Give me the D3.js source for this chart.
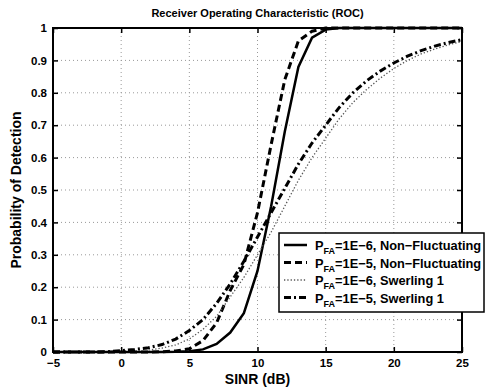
<!DOCTYPE html>
<html>
<head>
<meta charset="utf-8">
<script src="https://cdn.jsdelivr.net/npm/d3@7"></script>
<style>
  body { margin: 0; background: #fff; }
  text { font-family: "Liberation Sans", Arial, sans-serif; font-weight: bold; }
</style>
</head>
<body>
<div id="chart"></div>
<script>
// data, SINR in dB
const sinr = d3.range(-5, 26);
const pdNonFluct6 = [0, 0, 0, 0, 0, 0, 0, 0, 0, 0.0005, 0.002, 0.008, 0.025, 0.06, 0.12, 0.25, 0.45, 0.68, 0.88, 0.97, 0.995, 1, 1, 1, 1, 1, 1, 1, 1, 1, 1];
const pdNonFluct5 = [0, 0, 0, 0, 0, 0, 0, 0, 0.001, 0.003, 0.01, 0.035, 0.09, 0.19, 0.27, 0.43, 0.64, 0.84, 0.96, 0.99, 1, 1, 1, 1, 1, 1, 1, 1, 1, 1, 1];
const pdSwerling6 = [0, 0, 0, 0, 0, 0.001, 0.002, 0.006, 0.012, 0.022, 0.04, 0.07, 0.11, 0.17, 0.23, 0.30, 0.37, 0.45, 0.53, 0.60, 0.66, 0.72, 0.77, 0.81, 0.845, 0.875, 0.90, 0.92, 0.935, 0.948, 0.958];
const pdSwerling5 = [0, 0, 0, 0, 0.001, 0.004, 0.008, 0.013, 0.023, 0.04, 0.066, 0.10, 0.15, 0.21, 0.28, 0.355, 0.43, 0.505, 0.58, 0.645, 0.70, 0.755, 0.80, 0.837, 0.867, 0.892, 0.913, 0.93, 0.944, 0.955, 0.964];
const xTicks = [-5, 0, 5, 10, 15, 20, 25];
const yTicks = [0, 0.1, 0.2, 0.3, 0.4, 0.5, 0.6, 0.7, 0.8, 0.9, 1];
const seriesNames = ["=1E\u22126, Non\u2212Fluctuating", "=1E\u22125, Non\u2212Fluctuating", "=1E\u22126, Swerling 1", "=1E\u22125, Swerling 1"];

const svg_width = 487, svg_height = 387;
const margin = { top: 28, right: 25, bottom: 35, left: 53 },
  width = svg_width - margin.left - margin.right,
  height = svg_height - margin.top - margin.bottom;

const x = d3.scaleLinear().domain([-5, 25]).range([0, width]);
const y = d3.scaleLinear().domain([0, 1]).range([height, 0]);

const root = d3.select("#chart").append("svg")
  .attr("width", svg_width)
  .attr("height", svg_height);
const svg = root.append("g")
  .attr("transform", "translate(" + margin.left + "," + margin.top + ")");

// title
root.append("text")
  .attr("x", margin.left + width / 2).attr("y", 17)
  .attr("text-anchor", "middle").attr("font-size", 11)
  .text("Receiver Operating Characteristic (ROC)");

// grid
const gridStyle = g => g.attr("stroke", "#999").attr("stroke-width", 1).attr("stroke-dasharray", "1,3");
svg.append("g").call(gridStyle).selectAll("line")
  .data(xTicks.slice(1, -1)).enter().append("line")
  .attr("x1", d => x(d)).attr("x2", d => x(d)).attr("y1", 0).attr("y2", height);
svg.append("g").call(gridStyle).selectAll("line")
  .data(yTicks.slice(1, -1)).enter().append("line")
  .attr("y1", d => y(d)).attr("y2", d => y(d)).attr("x1", 0).attr("x2", width);

// curves
const series = [
  { values: pdNonFluct6, width: 2.5, dash: null, color: "#000" },
  { values: pdNonFluct5, width: 3, dash: "7,4", color: "#000" },
  { values: pdSwerling6, width: 1.3, dash: "1.3,2", color: "#555" },
  { values: pdSwerling5, width: 3, dash: "7,3,2,3", color: "#000" }
];
const line = d3.line().x((d, i) => x(sinr[i])).y(d => y(d));
svg.selectAll(".curve")
  .data(series).enter().append("path")
  .attr("class", "curve")
  .attr("fill", "none")
  .attr("stroke", d => d.color)
  .attr("stroke-width", d => d.width)
  .attr("stroke-dasharray", d => d.dash)
  .attr("d", d => line(d.values));

// axes with inward ticks, MATLAB box
const axisFont = g => g.selectAll("text").attr("font-size", 11.5).attr("font-family", "Liberation Sans, Arial, sans-serif").attr("font-weight", "bold").attr("fill", "#000");
svg.append("g")
  .attr("transform", "translate(0," + height + ")")
  .call(d3.axisBottom(x).tickValues(xTicks).tickSize(-5).tickPadding(7).tickFormat(d => String(d).replace("-", "\u2212")))
  .call(axisFont)
  .call(g => g.select(".domain").remove());
svg.append("g")
  .call(d3.axisTop(x).tickValues(xTicks).tickSize(-5).tickFormat(""))
  .call(g => g.select(".domain").remove());
svg.append("g")
  .call(d3.axisLeft(y).tickValues(yTicks).tickSize(-5).tickPadding(6).tickFormat(d => d === 0 || d === 1 ? d : d3.format(".1f")(d)))
  .call(axisFont)
  .call(g => g.select(".domain").remove());
svg.append("g")
  .attr("transform", "translate(" + width + ",0)")
  .call(d3.axisRight(y).tickValues(yTicks).tickSize(-5).tickFormat(""))
  .call(g => g.select(".domain").remove());
svg.selectAll(".tick line").attr("stroke", "#000").attr("stroke-width", 1.5);
svg.append("rect")
  .attr("width", width).attr("height", height)
  .attr("fill", "none").attr("stroke", "#000").attr("stroke-width", 2);

// axis labels
root.append("text")
  .attr("x", margin.left + width / 2).attr("y", 384)
  .attr("text-anchor", "middle").attr("font-size", 14)
  .text("SINR (dB)");
root.append("text")
  .attr("transform", "translate(21," + (margin.top + height / 2) + ") rotate(-90)")
  .attr("text-anchor", "middle").attr("font-size", 14)
  .text("Probability of Detection");

// legend
const legend = root.append("g").attr("transform", "translate(279,233)");
legend.append("rect")
  .attr("width", 205).attr("height", 79)
  .attr("fill", "#fff").attr("stroke", "#000").attr("stroke-width", 1.5);
const rows = legend.selectAll(".row")
  .data(series).enter().append("g")
  .attr("class", "row")
  .attr("transform", (d, i) => "translate(0," + (12 + i * 17.5) + ")");
rows.append("line")
  .attr("x1", 5).attr("x2", 28).attr("y1", 0).attr("y2", 0)
  .attr("stroke", d => d.color)
  .attr("stroke-width", d => d.width)
  .attr("stroke-dasharray", d => d.dash);
const labels = rows.append("text")
  .attr("x", 36).attr("y", 5).attr("font-size", 12.8);
labels.append("tspan").text("P");
labels.append("tspan").attr("font-size", 9).attr("dy", 4).text("FA");
labels.append("tspan").attr("dy", -4).text((d, i) => seriesNames[i]);
</script>
</body>
</html>
